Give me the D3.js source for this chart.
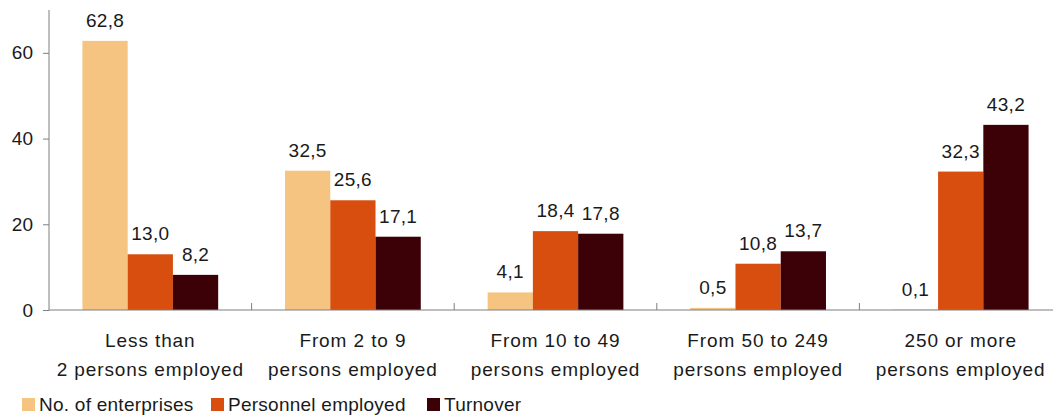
<!DOCTYPE html>
<html>
<head>
<meta charset="utf-8">
<script src="https://cdn.jsdelivr.net/npm/d3@7"></script>
<style>
body { margin: 0; background: #fff; }
text { font-family: "Liberation Sans", Arial, sans-serif; fill: #1a1a1a; }
</style>
</head>
<body>
<script>
var width = 1053;
var height = 416;

// data
var categories = [
	["Less than", "2 persons employed"],
	["From 2 to 9", "persons employed"],
	["From 10 to 49", "persons employed"],
	["From 50 to 249", "persons employed"],
	["250 or more", "persons employed"]
];
var seriesNames = ["No. of enterprises", "Personnel employed", "Turnover"];
var enterprises = [62.8, 32.5, 4.1, 0.5, 0.1];
var personnel = [13.0, 25.6, 18.4, 10.8, 32.3];
var turnover = [8.2, 17.1, 17.8, 13.7, 43.2];
var yTicks = [0, 20, 40, 60];
var colors = ["#f4c480", "#d84e0f", "#3c0007"];

var series = [enterprises, personnel, turnover];
var fs = "19px";

var svg = d3.select("body")
.append("svg")
.attr("width", width)
.attr("height", height);

var x0 = d3.scaleBand()
.domain(d3.range(categories.length))
.range([49, 1062])
.padding(0);

var bw = x0.bandwidth();
var x1 = d3.scaleBand()
.domain(d3.range(series.length))
.range([bw * 0.165, bw * 0.835])
.padding(0);

var y = d3.scaleLinear()
.domain([0, 70])
.range([310, 10]);

// bars
series.forEach(function(vals, s){
	var g = svg.append("g");
	g.selectAll("rect")
	.data(vals)
	.enter()
	.append("rect")
	.attr("x", function(d, i){ return x0(i) + x1(s); })
	.attr("y", function(d){ return y(d); })
	.attr("width", x1.bandwidth())
	.attr("height", function(d){ return y(0) - y(d); })
	.attr("fill", colors[s]);

	g.selectAll("text")
	.data(vals)
	.enter()
	.append("text")
	.attr("x", function(d, i){ return x0(i) + x1(s) + x1.bandwidth() / 2; })
	.attr("y", function(d){ return y(d) - 14; })
	.attr("text-anchor", "middle")
	.attr("font-size", fs)
	.style("letter-spacing", "0.3px")
	.text(function(d){ return d.toFixed(1).replace(".", ","); });
});

// y axis
var yAxis = d3.axisLeft(y)
.tickValues(yTicks)
.tickSize(6)
.tickPadding(10)
.tickSizeOuter(0);

var ya = svg.append("g")
.attr("transform", "translate(49,0)")
.call(yAxis);
ya.select(".domain").attr("stroke", "#7f7f7f").attr("d", "M0,10V310");
ya.selectAll(".tick line").attr("stroke", "#7f7f7f");
ya.selectAll(".tick text").attr("font-size", fs).attr("fill", "#1a1a1a")
.style("font-family", "Liberation Sans, Arial, sans-serif");

// x axis line and ticks
svg.append("line")
.attr("x1", 49).attr("x2", width)
.attr("y1", y(0)).attr("y2", y(0))
.attr("stroke", "#7f7f7f");

svg.selectAll(".xtick")
.data(d3.range(1, categories.length))
.enter()
.append("line")
.attr("class", "xtick")
.attr("x1", function(d){ return x0(d); })
.attr("x2", function(d){ return x0(d); })
.attr("y1", y(0))
.attr("y2", y(0) - 7)
.attr("stroke", "#7f7f7f");

// category labels
var cl = svg.selectAll(".cat")
.data(categories)
.enter()
.append("text")
.attr("class", "cat")
.attr("text-anchor", "middle")
.attr("font-size", fs)
.style("letter-spacing", "0.9px");
cl.each(function(d, i){
	var t = d3.select(this);
	d.forEach(function(line, j){
		t.append("tspan")
		.attr("x", x0(i) + bw / 2)
		.attr("y", 347 + j * 29)
		.text(line);
	});
});

// legend
var legendX = [22, 211, 427];
var lg = svg.selectAll(".leg")
.data(seriesNames)
.enter()
.append("g")
.attr("class", "leg")
.attr("transform", function(d, i){ return "translate(" + legendX[i] + ",398)"; });
lg.append("rect")
.attr("width", 13)
.attr("height", 13)
.attr("fill", function(d, i){ return colors[i]; });
lg.append("text")
.attr("x", 17)
.attr("y", 13)
.attr("font-size", fs)
.style("letter-spacing", "0.25px")
.text(function(d){ return d; });
</script>
</body>
</html>
